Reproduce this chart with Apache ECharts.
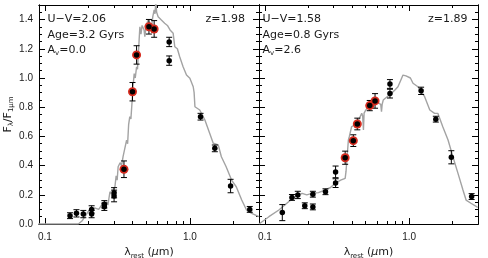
<!DOCTYPE html>
<html>
<head>
<meta charset="utf-8">
<script src="https://cdn.jsdelivr.net/npm/echarts@6/dist/echarts.min.js"></script>
<style>html,body{margin:0;padding:0;background:#fff;}#c{width:488px;height:258px;}</style>
</head>
<body>
<div id="c"></div>
<script>
// ---- tick labels / ticks ----
const xMajorTicks = [0.1, 1.0];
const xMinorTicks = [0.2, 0.3, 0.4, 0.5, 0.6, 0.7, 0.8, 0.9, 2, 3];
const yMajorTicks = [0.0, 0.2, 0.4, 0.6, 0.8, 1.0, 1.2, 1.4];
const yMinorTicks = [0.05, 0.1, 0.15, 0.25, 0.3, 0.35, 0.45, 0.5, 0.55, 0.65, 0.7, 0.75, 0.85, 0.9, 0.95, 1.05, 1.1, 1.15, 1.25, 1.3, 1.35, 1.45];

// ---- left panel photometry ----
const leftX   = [0.149, 0.165, 0.184, 0.21, 0.21, 0.257, 0.257, 0.30, 0.30, 0.351, 0.402, 0.429, 0.522, 0.567, 0.72, 0.72, 1.185, 1.487, 1.91, 2.59];
const leftY   = [0.057, 0.073, 0.068, 0.10, 0.068, 0.135, 0.118, 0.214, 0.192, 0.375, 0.906, 1.158, 1.351, 1.336, 1.247, 1.119, 0.735, 0.518, 0.26, 0.10];
const leftErr = [0.02, 0.025, 0.025, 0.025, 0.025, 0.025, 0.025, 0.035, 0.04, 0.057, 0.063, 0.063, 0.05, 0.057, 0.032, 0.032, 0.023, 0.023, 0.046, 0.02];
const leftRed = [0, 0, 0, 0, 0, 0, 0, 0, 0, 1, 1, 1, 1, 1, 0, 0, 0, 0, 0, 0];

// ---- left panel model ----
const leftModelX = [0.09, 0.17, 0.18, 0.189, 0.197, 0.204, 0.212, 0.22, 0.227, 0.235, 0.246, 0.255, 0.266, 0.272, 0.281, 0.29, 0.297, 0.304, 0.31, 0.315, 0.32, 0.33, 0.338, 0.346, 0.355, 0.366, 0.372, 0.378, 0.385, 0.392, 0.4, 0.406, 0.413, 0.42, 0.429, 0.435, 0.44, 0.446, 0.452, 0.46, 0.468, 0.476, 0.483, 0.489, 0.5, 0.515, 0.53, 0.544, 0.555, 0.567, 0.575, 0.582, 0.59, 0.604, 0.62, 0.636, 0.65, 0.67, 0.7, 0.73, 0.767, 0.787, 0.82, 0.851, 0.898, 0.948, 1.0, 1.055, 1.07, 1.084, 1.17, 1.27, 1.37, 1.45, 1.57, 1.65, 1.78, 1.94, 2.09, 2.28, 2.46, 2.67, 3.0];
const leftModelY = [0.0, 0.0, 0.02, 0.05, 0.08, 0.096, 0.09, 0.11, 0.114, 0.1, 0.13, 0.12, 0.153, 0.13, 0.221, 0.2, 0.24, 0.255, 0.33, 0.3, 0.392, 0.42, 0.40, 0.461, 0.45, 0.575, 0.55, 0.68, 0.735, 0.72, 0.849, 0.95, 1.03, 1.0, 1.077, 1.06, 1.146, 1.25, 1.351, 1.3, 1.36, 1.363, 1.33, 1.283, 1.36, 1.397, 1.37, 1.351, 1.42, 1.466, 1.44, 1.52, 1.45, 1.42, 1.43, 1.397, 1.40, 1.375, 1.36, 1.329, 1.306, 1.214, 1.2, 1.146, 1.077, 1.02, 0.998, 0.94, 0.9, 0.803, 0.781, 0.712, 0.621, 0.553, 0.541, 0.461, 0.392, 0.301, 0.255, 0.164, 0.096, 0.073, 0.05];

// ---- right panel photometry ----
const rightX   = [0.132, 0.154, 0.169, 0.189, 0.215, 0.215, 0.263, 0.309, 0.309, 0.36, 0.41, 0.437, 0.533, 0.58, 0.736, 0.736, 1.21, 1.53, 1.96, 2.71];
const rightY   = [0.078, 0.182, 0.199, 0.125, 0.204, 0.117, 0.221, 0.357, 0.28, 0.454, 0.571, 0.685, 0.811, 0.843, 0.959, 0.893, 0.912, 0.718, 0.457, 0.188];
const rightErr = [0.055, 0.02, 0.025, 0.02, 0.02, 0.02, 0.02, 0.04, 0.03, 0.045, 0.04, 0.04, 0.035, 0.05, 0.03, 0.03, 0.025, 0.02, 0.045, 0.02];
const rightRed = [0, 0, 0, 0, 0, 0, 0, 0, 0, 1, 1, 1, 1, 1, 0, 0, 0, 0, 0, 0];

// ---- right panel model ----
const rightModelX = [0.091, 0.1066, 0.125, 0.146, 0.163, 0.181, 0.195, 0.212, 0.235, 0.262, 0.285, 0.307, 0.335, 0.36, 0.365, 0.37, 0.379, 0.385, 0.399, 0.42, 0.433, 0.45, 0.469, 0.476, 0.482, 0.487, 0.5, 0.521, 0.55, 0.579, 0.61, 0.635, 0.643, 0.65, 0.661, 0.7, 0.754, 0.8, 0.836, 0.87, 0.906, 0.95, 0.98, 1.02, 1.063, 1.15, 1.28, 1.39, 1.5, 1.58, 1.71, 1.86, 2.01, 2.18, 2.36, 2.48, 2.68, 2.95, 3.0];
const rightModelY = [0.0, 0.05, 0.096, 0.153, 0.187, 0.21, 0.2, 0.21, 0.215, 0.233, 0.25, 0.279, 0.3, 0.313, 0.36, 0.438, 0.575, 0.6, 0.666, 0.68, 0.7, 0.72, 0.758, 0.74, 0.644, 0.76, 0.78, 0.803, 0.81, 0.826, 0.83, 0.82, 0.769, 0.82, 0.849, 0.87, 0.895, 0.92, 0.94, 0.98, 1.02, 1.015, 1.009, 1.0, 0.964, 0.94, 0.872, 0.781, 0.758, 0.758, 0.666, 0.575, 0.461, 0.347, 0.233, 0.164, 0.142, 0.118, 0.115];

// ---- annotations ----
const leftLabels  = { uv: 'U\u2212V=2.06', age: 'Age=3.2 Gyrs', av: '0.0', z: 'z=1.98' };
const rightLabels = { uv: 'U\u2212V=1.58', age: 'Age=0.8 Gyrs', av: '2.6', z: 'z=1.89' };

const TXT = '#1a1a1a';
const RED = '#d62a1d';
const GRAY = '#a3a3a3';
const TICKFONT = 'Liberation Sans';
const FONT = 'DejaVu Sans';

const chart = echarts.init(document.getElementById('c'), null, { renderer: 'canvas' });

const grids = [
  { left: 39, top: 5, width: 220, height: 219, outerBoundsMode: 'none', containLabel: false },
  { left: 259, top: 5, width: 219, height: 219, outerBoundsMode: 'none', containLabel: false }
];

const axisLine = { show: true, onZero: false, lineStyle: { color: '#000', width: 1 } };

function xAxesFor(g, withName) {
  const base = { type: 'log', logBase: 10, gridIndex: g, min: 0.091, max: 3.0, splitLine: { show: false }, minorTick: { show: false }, axisLine: axisLine };
  const xName = withName ? {
    name: '{l|\u03bb}{s|rest}{l| (}{m|\u03bc}{l|m)}',
    nameLocation: 'middle', nameGap: 19,
    nameTextStyle: {
      color: TXT,
      rich: {
        l: { fontFamily: FONT, fontSize: 11, lineHeight: 14, color: TXT },
        m: { fontFamily: FONT, fontSize: 11, lineHeight: 14, fontStyle: 'italic', color: TXT },
        s: { fontFamily: FONT, fontSize: 7, lineHeight: 8, verticalAlign: 'bottom', color: TXT }
      }
    }
  } : {};
  return [
    Object.assign({}, base, xName, {
      position: 'bottom',
      axisTick: { show: true, inside: true, length: 6, customValues: xMajorTicks, lineStyle: { color: '#000' } },
      axisLabel: { show: true, customValues: xMajorTicks, margin: 8, fontSize: 10, fontFamily: TICKFONT, color: TXT,
        formatter: v => Number(v).toFixed(1) }
    }),
    Object.assign({}, base, {
      position: 'bottom',
      axisTick: { show: true, inside: true, length: 3, customValues: xMinorTicks, lineStyle: { color: '#000' } },
      axisLabel: { show: false }
    }),
    Object.assign({}, base, {
      position: 'top',
      axisTick: { show: true, inside: true, length: 6, customValues: xMajorTicks, lineStyle: { color: '#000' } },
      axisLabel: { show: false }
    }),
    Object.assign({}, base, {
      position: 'top',
      axisTick: { show: true, inside: true, length: 3, customValues: xMinorTicks, lineStyle: { color: '#000' } },
      axisLabel: { show: false }
    })
  ];
}

function yAxesFor(g, withLabels) {
  const base = { type: 'value', gridIndex: g, min: 0, max: 1.5, splitLine: { show: false }, minorTick: { show: false }, axisLine: axisLine };
  const yName = withLabels ? {
    name: '{f|F}{s|\u03bb}{f|/F}{s|1\u03bcm}',
    nameLocation: 'middle', nameGap: 24, nameRotate: 90,
    nameTextStyle: {
      color: TXT,
      rich: {
        f: { fontFamily: FONT, fontSize: 11, lineHeight: 14, color: TXT },
        s: { fontFamily: FONT, fontSize: 7, lineHeight: 8, verticalAlign: 'bottom', color: TXT }
      }
    }
  } : {};
  return [
    Object.assign({}, base, yName, {
      position: 'left',
      axisTick: { show: true, inside: true, length: 6, customValues: yMajorTicks, lineStyle: { color: '#000' } },
      axisLabel: withLabels ? { show: true, customValues: yMajorTicks, margin: 6, fontSize: 10, fontFamily: TICKFONT, color: TXT,
        formatter: v => Number(v).toFixed(1) } : { show: false }
    }),
    Object.assign({}, base, {
      position: 'left',
      axisTick: { show: true, inside: true, length: 3, customValues: yMinorTicks, lineStyle: { color: '#000' } },
      axisLabel: { show: false }
    }),
    Object.assign({}, base, {
      position: 'right',
      axisTick: { show: true, inside: true, length: 6, customValues: yMajorTicks, lineStyle: { color: '#000' } },
      axisLabel: { show: false }
    }),
    Object.assign({}, base, {
      position: 'right',
      axisTick: { show: true, inside: true, length: 3, customValues: yMinorTicks, lineStyle: { color: '#000' } },
      axisLabel: { show: false }
    })
  ];
}

function panelSeries(g, mx, my, px, py, pe, pr) {
  const xi = 4 * g, yi = 4 * g;
  const model = mx.map((x, i) => [x, my[i]]);
  const errs = px.map((x, i) => [x, py[i] - pe[i], py[i] + pe[i]]);
  const reds = px.map((x, i) => [x, py[i]]).filter((d, i) => pr[i]);
  const pts = px.map((x, i) => [x, py[i]]);
  return [
    { type: 'line', xAxisIndex: xi, yAxisIndex: yi, data: model, showSymbol: false, symbol: 'none',
      lineStyle: { color: GRAY, width: 1.4 }, clip: true, z: 2, silent: true },
    { type: 'custom', xAxisIndex: xi, yAxisIndex: yi, data: errs, z: 3, clip: true,
      encode: { x: 0, y: [1, 2] },
      renderItem: (params, api) => {
        const x = api.value(0);
        const lo = api.coord([x, api.value(1)]);
        const hi = api.coord([x, api.value(2)]);
        const w = 3;
        const st = { stroke: '#000', lineWidth: 1 };
        return { type: 'group', children: [
          { type: 'line', shape: { x1: lo[0], y1: lo[1], x2: hi[0], y2: hi[1] }, style: st },
          { type: 'line', shape: { x1: lo[0] - w, y1: lo[1], x2: lo[0] + w, y2: lo[1] }, style: st },
          { type: 'line', shape: { x1: hi[0] - w, y1: hi[1], x2: hi[0] + w, y2: hi[1] }, style: st }
        ] };
      } },
    { type: 'scatter', xAxisIndex: xi, yAxisIndex: yi, data: reds, symbol: 'circle', symbolSize: 9,
      itemStyle: { color: RED, opacity: 1 }, z: 4 },
    { type: 'scatter', xAxisIndex: xi, yAxisIndex: yi, data: pts, symbol: 'circle', symbolSize: 5.5,
      itemStyle: { color: '#000', opacity: 1 }, z: 5 }
  ];
}

function richText(left, top, parts, align) {
  return { type: 'text', left: left, top: top, z: 100,
    style: { text: parts, fill: TXT, font: '11px "' + FONT + '"', textAlign: align || 'left', textVerticalAlign: 'middle',
      rich: {
        a: { fontFamily: FONT, fontSize: 11, lineHeight: 14, fill: TXT, color: TXT },
        s: { fontFamily: FONT, fontSize: 7, lineHeight: 8, verticalAlign: 'bottom', fill: TXT, color: TXT }
      } } };
}

function plainText(x, y, text, align) {
  return { type: 'text', x: x, y: y, z: 100,
    style: { text: text, fill: TXT, font: '11px "' + FONT + '"', textAlign: align, textVerticalAlign: 'middle' } };
}

const option = {
  animation: false,
  backgroundColor: '#fff',
  grid: grids,
  xAxis: [].concat(xAxesFor(0, true), xAxesFor(1, true)),
  yAxis: [].concat(yAxesFor(0, true), yAxesFor(1, false)),
  series: [].concat(
    panelSeries(0, leftModelX, leftModelY, leftX, leftY, leftErr, leftRed),
    panelSeries(1, rightModelX, rightModelY, rightX, rightY, rightErr, rightRed)
  ),
  graphic: [
    plainText(47.5, 19, leftLabels.uv, 'left'),
    plainText(47.5, 35, leftLabels.age, 'left'),
    { type: 'text', x: 47.5, y: 50, z: 100, style: { text: '{a|A}{s|v}{a|=' + leftLabels.av + '}', textVerticalAlign: 'middle',
      rich: { a: { fontFamily: FONT, fontSize: 11, lineHeight: 14, fill: TXT }, s: { fontFamily: FONT, fontSize: 7, lineHeight: 8, verticalAlign: 'bottom', fill: TXT } } } },
    plainText(245, 19, leftLabels.z, 'right'),
    plainText(262.5, 19, rightLabels.uv, 'left'),
    plainText(262.5, 35, rightLabels.age, 'left'),
    { type: 'text', x: 262.5, y: 50, z: 100, style: { text: '{a|A}{s|v}{a|=' + rightLabels.av + '}', textVerticalAlign: 'middle',
      rich: { a: { fontFamily: FONT, fontSize: 11, lineHeight: 14, fill: TXT }, s: { fontFamily: FONT, fontSize: 7, lineHeight: 8, verticalAlign: 'bottom', fill: TXT } } } },
    plainText(467.5, 19, rightLabels.z, 'right')
  ]
};

chart.setOption(option);
</script>
</body>
</html>
